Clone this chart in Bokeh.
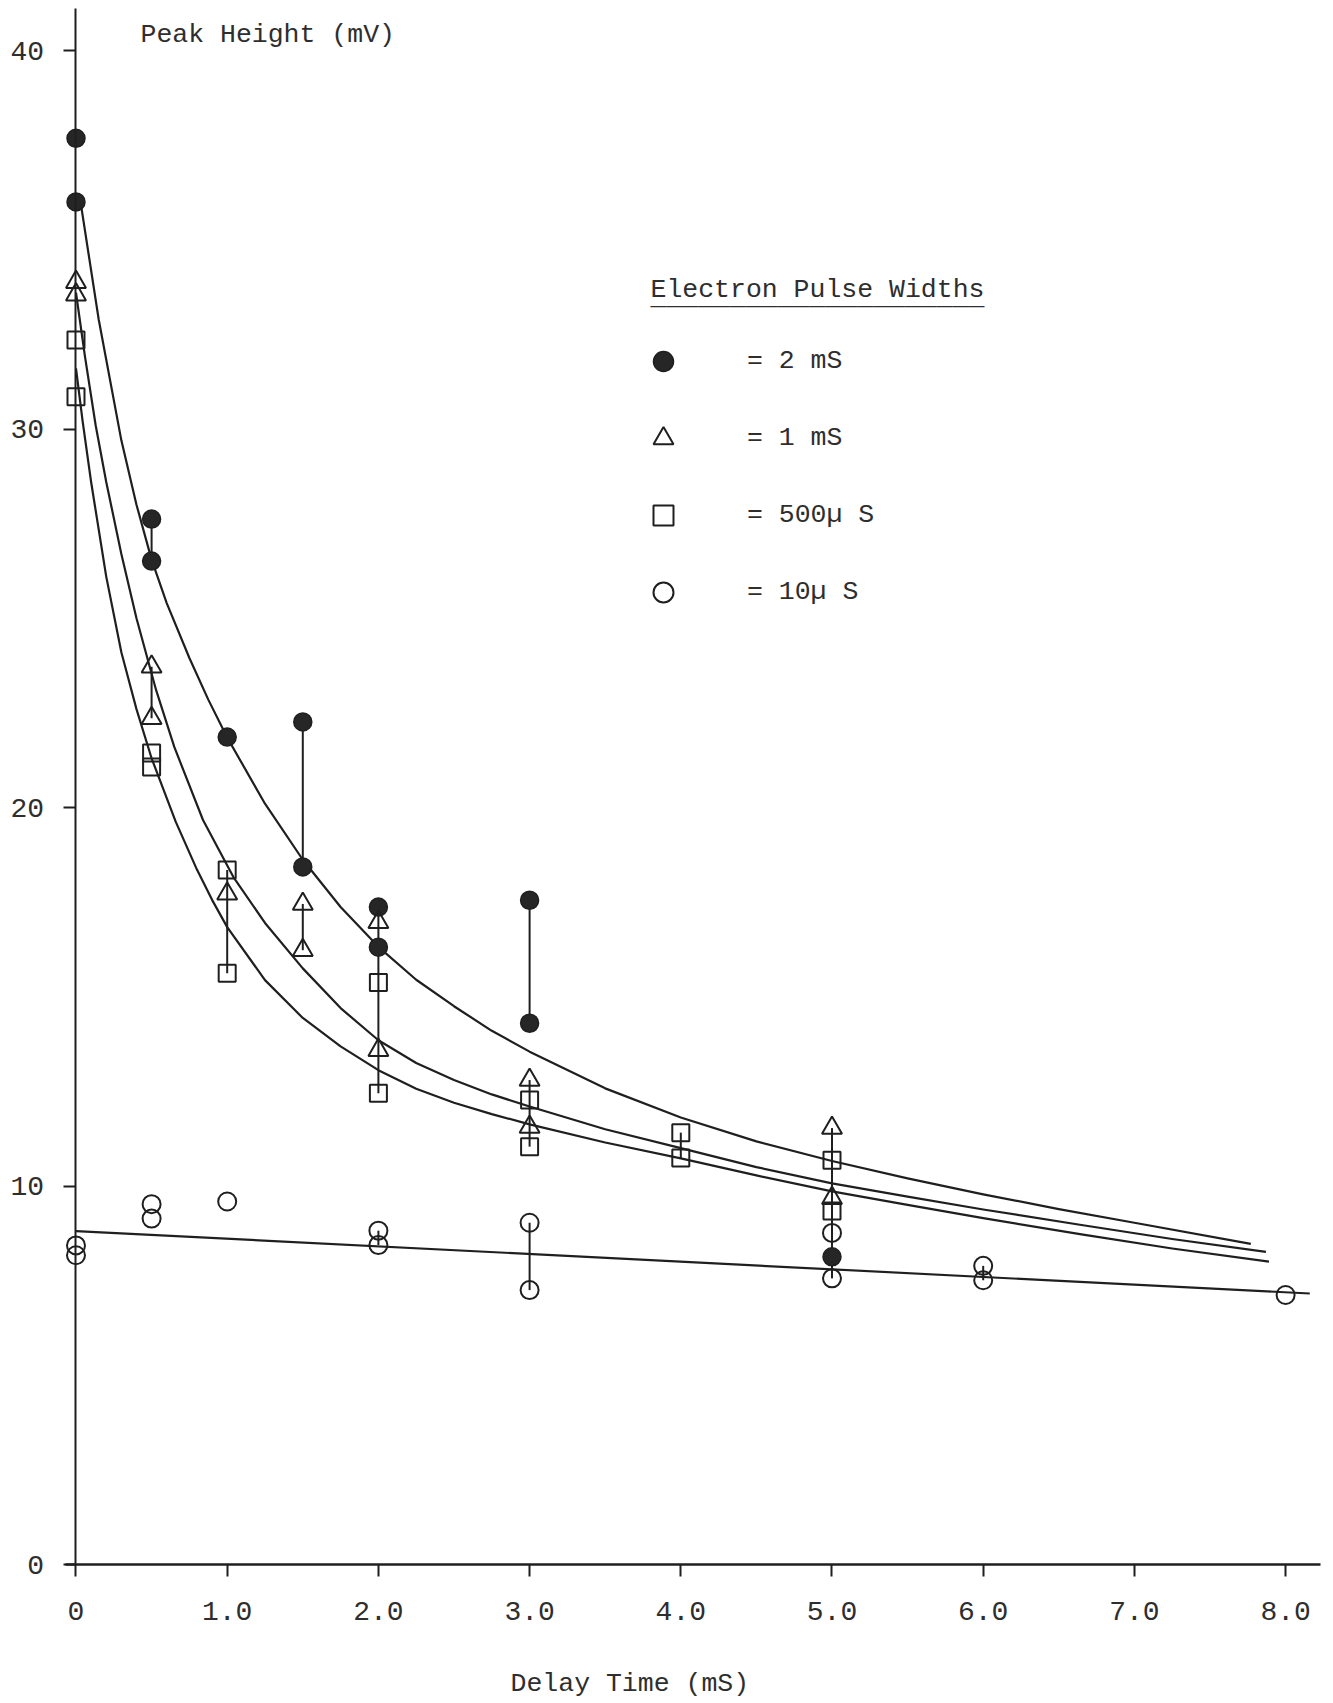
from bokeh.plotting import figure
from bokeh.models import Range1d, FixedTicker, Label, Legend, LegendItem
from bokeh.embed import file_html
from bokeh.resources import INLINE

# ---- measured peak heights (mV) against delay time (mS) ----
# electron pulse width 2 mS
x_2ms = [0, 0, 0.5, 0.5, 1.0, 1.5, 1.5, 2.0, 2.0, 3.0, 3.0, 5.0]
y_2ms = [37.68, 36.0, 27.62, 26.51, 21.86, 22.26, 18.43, 17.37, 16.31, 17.55, 14.3, 8.13]

# electron pulse width 1 mS
x_1ms = [0, 0, 0.5, 0.5, 1.0, 1.5, 1.5, 2.0, 2.0, 3.0, 3.0, 5.0, 5.0]
y_1ms = [33.88, 33.55, 23.72, 22.36, 17.72, 17.45, 16.23, 16.97, 13.59, 12.8, 11.56, 11.53, 9.68]

# electron pulse width 500 uS
x_500us = [0, 0, 0.5, 0.5, 1.0, 1.0, 2.0, 2.0, 3.0, 3.0, 4.0, 4.0, 5.0, 5.0]
y_500us = [32.35, 30.85, 21.44, 21.07, 18.35, 15.62, 15.38, 12.45, 12.27, 11.04, 11.41, 10.74, 10.68, 9.34]

# electron pulse width 10 uS
x_10us = [0, 0, 0.5, 0.5, 1.0, 2.0, 2.0, 3.0, 3.0, 5.0, 5.0, 6.0, 6.0, 8.0]
y_10us = [8.43, 8.17, 9.52, 9.14, 9.59, 8.82, 8.44, 9.03, 7.25, 8.76, 7.56, 7.89, 7.51, 7.12]

# vertical spread bars joining repeated readings
bar_x = [0.5, 0.5, 1.0, 1.5, 1.5, 2.0, 2.0, 3.0, 3.0, 3.0, 4.0, 5.0, 6.0]
bar_lo = [26.51, 22.36, 15.62, 18.43, 16.23, 12.45, 8.44, 14.3, 11.04, 7.25, 10.74, 7.56, 7.51]
bar_hi = [27.62, 23.72, 18.35, 22.26, 17.45, 17.37, 8.82, 17.55, 12.8, 9.03, 11.41, 11.53, 7.89]

# hand-drawn fitted decay curves
curve_2ms_x = [0.03, 0.15, 0.30, 0.40, 0.50, 0.60, 0.75, 0.875, 1.00, 1.25, 1.50, 1.75, 2.00,
               2.25, 2.50, 2.75, 3.00, 3.50, 4.00, 4.50, 5.00, 5.50, 6.00, 6.50, 7.00, 7.77]
curve_2ms_y = [36.0, 32.9, 29.7, 28.0, 26.55, 25.4, 23.95, 22.85, 21.85, 20.1, 18.62, 17.37, 16.32,
               15.45, 14.75, 14.1, 13.55, 12.58, 11.81, 11.18, 10.66, 10.2, 9.78, 9.39, 9.03, 8.47]

curve_1ms_x = [0.0, 0.06, 0.13, 0.20, 0.30, 0.40, 0.53, 0.65, 0.84, 1.04, 1.25, 1.50, 1.75,
               2.00, 2.25, 2.50, 2.75, 3.00, 3.50, 4.00, 4.50, 5.00, 5.50, 6.00, 6.65, 7.25, 7.87]
curve_1ms_y = [33.6, 31.9, 30.1, 28.6, 26.7, 25.0, 23.1, 21.6, 19.67, 18.17, 16.95, 15.75, 14.7,
               13.85, 13.25, 12.8, 12.42, 12.1, 11.5, 11.0, 10.5, 10.07, 9.72, 9.38, 8.97, 8.6, 8.26]

curve_500us_x = [0.0, 0.044, 0.10, 0.20, 0.30, 0.40, 0.50, 0.66, 0.80, 0.90, 1.00, 1.25, 1.50,
                 1.75, 2.00, 2.25, 2.50, 2.75, 3.00, 3.50, 4.00, 4.50, 5.00, 5.50, 6.00, 6.65,
                 7.25, 7.89]
curve_500us_y = [31.6, 30.2, 28.6, 26.1, 24.1, 22.6, 21.3, 19.62, 18.36, 17.56, 16.84, 15.44, 14.44,
                 13.69, 13.06, 12.57, 12.2, 11.9, 11.63, 11.15, 10.73, 10.28, 9.86, 9.5, 9.15, 8.72,
                 8.35, 8.0]

line_10us_x = [0.0, 8.16]
line_10us_y = [8.81, 7.16]

# axis ticks
x_ticks = [0, 1, 2, 3, 4, 5, 6, 7, 8]
x_tick_labels = ["0", "1.0", "2.0", "3.0", "4.0", "5.0", "6.0", "7.0", "8.0"]
y_ticks = [0, 10, 20, 30, 40]

legend_labels = ["= 2 mS", "= 1 mS", "= 500\u00b5 S", "= 10\u00b5 S"]

INK = "#1f1f1f"
TEXT = "#2e2e2e"
FONT = "Liberation Mono"

p = figure(width=1333, height=1703,
           x_range=Range1d(-0.4993, 8.3168), y_range=Range1d(-3.672, 41.321),
           output_backend="svg", toolbar_location=None, min_border=0,
           outline_line_color=None, background_fill_color="white",
           border_fill_color="white")
p.grid.visible = False

xa = p.xaxis[0]
ya = p.yaxis[0]
xa.fixed_location = 0
ya.fixed_location = 0
xa.bounds = (-0.07, 8.23)
ya.bounds = (0, 41.1)
xa.ticker = FixedTicker(ticks=x_ticks)
ya.ticker = FixedTicker(ticks=y_ticks)
xa.major_label_overrides = {t: s for t, s in zip(x_ticks, x_tick_labels)}
for ax in (xa, ya):
    ax.axis_line_color = INK
    ax.major_tick_line_color = INK
    ax.major_tick_line_width = 2
    ax.major_tick_in = 0
    ax.major_tick_out = 12
    ax.minor_tick_line_color = None
    ax.major_label_text_font = FONT
    ax.major_label_text_font_size = "28px"
    ax.major_label_text_color = TEXT
xa.axis_line_width = 2.6
ya.axis_line_width = 2.0
xa.major_label_standoff = 25
ya.major_label_standoff = 20

# spread bars and fitted curves
p.segment(x0=bar_x, y0=bar_lo, x1=bar_x, y1=bar_hi, line_color=INK, line_width=2)
for cx, cy in ((curve_2ms_x, curve_2ms_y), (curve_1ms_x, curve_1ms_y),
               (curve_500us_x, curve_500us_y), (line_10us_x, line_10us_y)):
    p.line(cx, cy, line_color=INK, line_width=2.2, line_join="round")

# data points
r_2ms = p.scatter(x_2ms, y_2ms, marker="circle", size=18, fill_color="#262626",
                  line_color=INK, line_width=1.5)
r_1ms = p.scatter(x_1ms, y_1ms, marker="triangle", size=20, fill_color=None,
                  line_color=INK, line_width=2)
r_500us = p.scatter(x_500us, y_500us, marker="square", size=17, fill_color=None,
                    line_color=INK, line_width=2)
r_10us = p.scatter(x_10us, y_10us, marker="circle", size=18, fill_color=None,
                   line_color=INK, line_width=2)

legend = Legend(
    items=[LegendItem(label=lab, renderers=[r]) for lab, r in
           zip(legend_labels, (r_2ms, r_1ms, r_500us, r_10us))],
    location=(638, 1086), glyph_width=50, glyph_height=50, label_height=50,
    spacing=27, padding=0, margin=0, label_standoff=59,
    border_line_color=None, background_fill_alpha=0,
    label_text_font=FONT, label_text_font_size="26.5px", label_text_color=TEXT)
p.add_layout(legend)

text_style = dict(text_font=FONT, text_font_size="26.5px", text_color=TEXT,
                  text_baseline="alphabetic", text_align="left")
p.add_layout(Label(x=0.4266, y=40.42, text="Peak Height (mV)", **text_style))
p.add_layout(Label(x=2.874, y=-3.17, text="Delay Time (mS)", **text_style))
p.add_layout(Label(x=3.7996, y=33.66, text="Electron Pulse Widths", **text_style))
p.add_layout(Label(x=3.7996, y=33.48, text="_" * 21, **text_style))

open("out.html", "w").write(file_html(p, INLINE))
